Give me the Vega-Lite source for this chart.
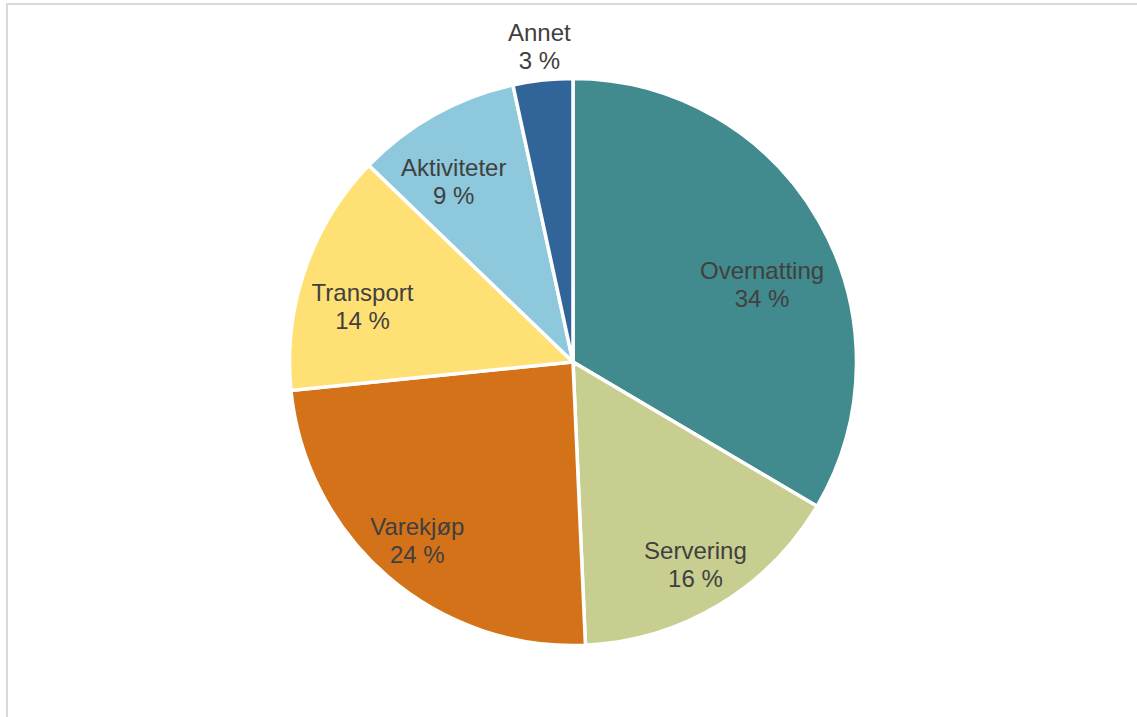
{
  "$schema": "https://vega.github.io/schema/vega-lite/v6.json",
  "width": 1132,
  "height": 716,
  "autosize": {"type": "none"},
  "padding": {"left": 7, "top": 4, "right": 0, "bottom": 0},
  "background": "white",
  "view": {"stroke": "#d9d9d9", "strokeWidth": 2},
  "data": {
    "values": [
      {"kategori": "Overnatting", "andel": 33.5, "rekkefolge": 1},
      {"kategori": "Servering", "andel": 15.8, "rekkefolge": 2},
      {"kategori": "Varekjøp", "andel": 24.1, "rekkefolge": 3},
      {"kategori": "Transport", "andel": 13.8, "rekkefolge": 4},
      {"kategori": "Aktiviteter", "andel": 9.4, "rekkefolge": 5},
      {"kategori": "Annet", "andel": 3.4, "rekkefolge": 6}
    ]
  },
  "transform": [
    {"stack": "andel", "groupby": [], "sort": [{"field": "rekkefolge", "order": "ascending"}], "as": ["start", "slutt"]},
    {"calculate": "(datum.start + datum.slutt) / 2", "as": "midt"},
    {"calculate": "datum.kategori + '\\n' + round(datum.andel) + ' %'", "as": "etikett"}
  ],
  "layer": [
    {
      "mark": {"type": "arc", "outerRadius": 283.5, "stroke": "white", "strokeWidth": 3.5},
      "encoding": {
        "theta": {"field": "start", "type": "quantitative", "scale": {"domain": [0, 100]}},
        "theta2": {"field": "slutt"},
        "color": {
          "field": "kategori",
          "type": "nominal",
          "scale": {
            "domain": ["Overnatting", "Servering", "Varekjøp", "Transport", "Aktiviteter", "Annet"],
            "range": ["#418A8D", "#C8CE8F", "#D4721A", "#FFE075", "#8DC8DC", "#316599"]
          },
          "legend": null
        }
      }
    },
    {
      "transform": [{"filter": "datum.kategori === 'Servering' || datum.kategori === 'Varekjøp'"}],
      "mark": {"type": "text", "radius": 238, "dy": -14, "font": "Liberation Sans", "fontSize": 24, "fill": "#404040", "lineBreak": "\n", "lineHeight": 28, "align": "center", "baseline": "middle"},
      "encoding": {
        "theta": {"field": "midt", "type": "quantitative", "stack": null, "scale": {"domain": [0, 100]}},
        "text": {"field": "etikett", "type": "nominal"}
      }
    },
    {
      "transform": [{"filter": "datum.kategori === 'Transport' || datum.kategori === 'Aktiviteter'"}],
      "mark": {"type": "text", "radius": 218, "thetaOffset": -0.07, "dy": -11, "font": "Liberation Sans", "fontSize": 24, "fill": "#404040", "lineBreak": "\n", "lineHeight": 28, "align": "center", "baseline": "middle"},
      "encoding": {
        "theta": {"field": "midt", "type": "quantitative", "stack": null, "scale": {"domain": [0, 100]}},
        "text": {"field": "etikett", "type": "nominal"}
      }
    },
    {
      "transform": [{"filter": "datum.kategori === 'Overnatting'"}],
      "mark": {"type": "text", "radius": 204, "thetaOffset": 0.133, "dy": -13, "font": "Liberation Sans", "fontSize": 24, "fill": "#404040", "lineBreak": "\n", "lineHeight": 28, "align": "center", "baseline": "middle"},
      "encoding": {
        "theta": {"field": "midt", "type": "quantitative", "stack": null, "scale": {"domain": [0, 100]}},
        "text": {"field": "etikett", "type": "nominal"}
      }
    },
    {
      "transform": [{"filter": "datum.kategori === 'Annet'"}],
      "mark": {"type": "text", "radius": 316, "dy": -14, "font": "Liberation Sans", "fontSize": 24, "fill": "#404040", "lineBreak": "\n", "lineHeight": 28, "align": "center", "baseline": "middle"},
      "encoding": {
        "theta": {"field": "midt", "type": "quantitative", "stack": null, "scale": {"domain": [0, 100]}},
        "text": {"field": "etikett", "type": "nominal"}
      }
    }
  ]
}
